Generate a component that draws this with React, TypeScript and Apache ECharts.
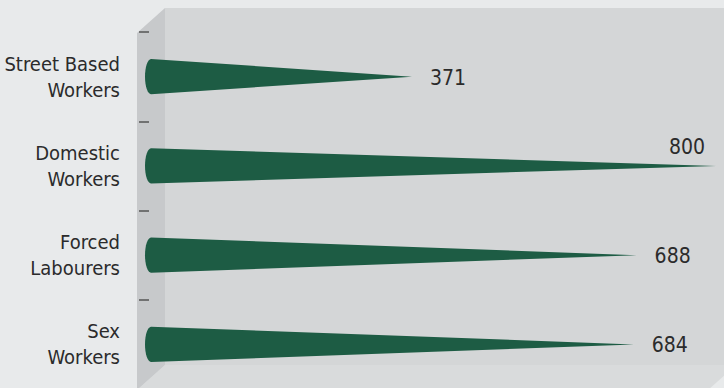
import React, { useEffect, useRef } from "react";
import * as echarts from "echarts";

const categories = ["Street Based\nWorkers", "Domestic\nWorkers", "Forced\nLabourers", "Sex\nWorkers"];
const values = [371, 800, 688, 684];
const axisMax = 800;

const FONT = "'DejaVu Sans Condensed', 'Liberation Sans Narrow', sans-serif";

export default function App() {
  const ref = useRef<HTMLDivElement>(null);
  useEffect(() => {
    document.body.style.margin = "0";
    const chart = echarts.init(ref.current!, null, { renderer: "svg" });
    const depthX = 28;
    const depthY = 25;
    const wallLeft = 165;
    const wallTop = 8;
    const wallBottom = 365;
    const wallRight = 736;

    chart.setOption({
      animation: false,
      backgroundColor: "#e8eaeb",
      graphic: [
        {
          type: "polygon",
          silent: true,
          z: -10,
          shape: { points: [[wallLeft, wallTop], [wallRight, wallTop], [wallRight, wallBottom], [wallLeft, wallBottom]] },
          style: { fill: "#d4d6d7" },
        },
        {
          type: "polygon",
          silent: true,
          z: -10,
          shape: {
            points: [
              [wallLeft, wallBottom],
              [wallRight, wallBottom],
              [wallRight - depthX, wallBottom + depthY],
              [wallLeft - depthX, wallBottom + depthY],
            ],
          },
          style: { fill: "#d9dbdc" },
        },
        {
          type: "polygon",
          silent: true,
          z: -10,
          shape: {
            points: [
              [wallLeft - depthX, wallTop + depthY],
              [wallLeft, wallTop],
              [wallLeft, wallBottom],
              [wallLeft - depthX, wallBottom + depthY],
            ],
          },
          style: { fill: "#c7c9cb" },
        },
      ],
      grid: { left: 149, right: 8, top: 32, bottom: -1, outerBoundsMode: "none", containLabel: false },
      xAxis: {
        type: "value",
        min: 0,
        max: axisMax,
        show: false,
      },
      yAxis: {
        type: "category",
        data: categories,
        inverse: true,
        offset: 14,
        axisLine: { show: false },
        axisTick: { show: true, length: 10, lineStyle: { color: "#555", width: 1.5 } },
        axisLabel: {
          margin: 15,
          color: "#2b2b2b",
          fontSize: 20,
          lineHeight: 26,
          fontFamily: FONT,
          align: "right",
        },
        splitLine: { show: false },
      },
      series: [
        {
          type: "custom",
          clip: false,
          data: values.map((v, i) => [v, i]),
          encode: { x: 0, y: 1 },
          renderItem: (params: any, api: any) => {
            const v = api.value(0);
            const idx = api.value(1);
            const start = api.coord([0, idx]);
            const end = api.coord([v, idx]);
            const band = api.size([0, 1])[1];
            const h = band * 0.197;
            const cy = start[1];
            const cx = start[0] + 2;
            const rx = 6;
            const pts: number[][] = [];
            const n = 16;
            for (let k = 0; k <= n; k++) {
              const a = -Math.PI / 2 - (Math.PI * k) / n;
              pts.push([cx + rx * Math.cos(a), cy + h * Math.sin(a)]);
            }
            pts.push([end[0], cy]);
            const chartW = api.getWidth();
            const fits = end[0] + 60 < chartW;
            const label = fits
              ? { x: end[0] + 18, y: cy + 1, align: "left" }
              : { x: end[0] - 11, y: cy - 19, align: "right" };
            return {
              type: "group",
              children: [
                {
                  type: "polygon",
                  shape: { points: pts },
                  style: { fill: "#1d5c44" },
                },
                {
                  type: "text",
                  style: {
                    text: String(v),
                    x: label.x,
                    y: label.y,
                    align: label.align,
                    verticalAlign: "middle",
                    fill: "#2b2b2b",
                    fontSize: 21,
                    fontFamily: FONT,
                  },
                },
              ],
            };
          },
        },
      ],
    });
    return () => chart.dispose();
  }, []);
  return <div ref={ref} style={{ width: 724, height: 388 }} />;
}
